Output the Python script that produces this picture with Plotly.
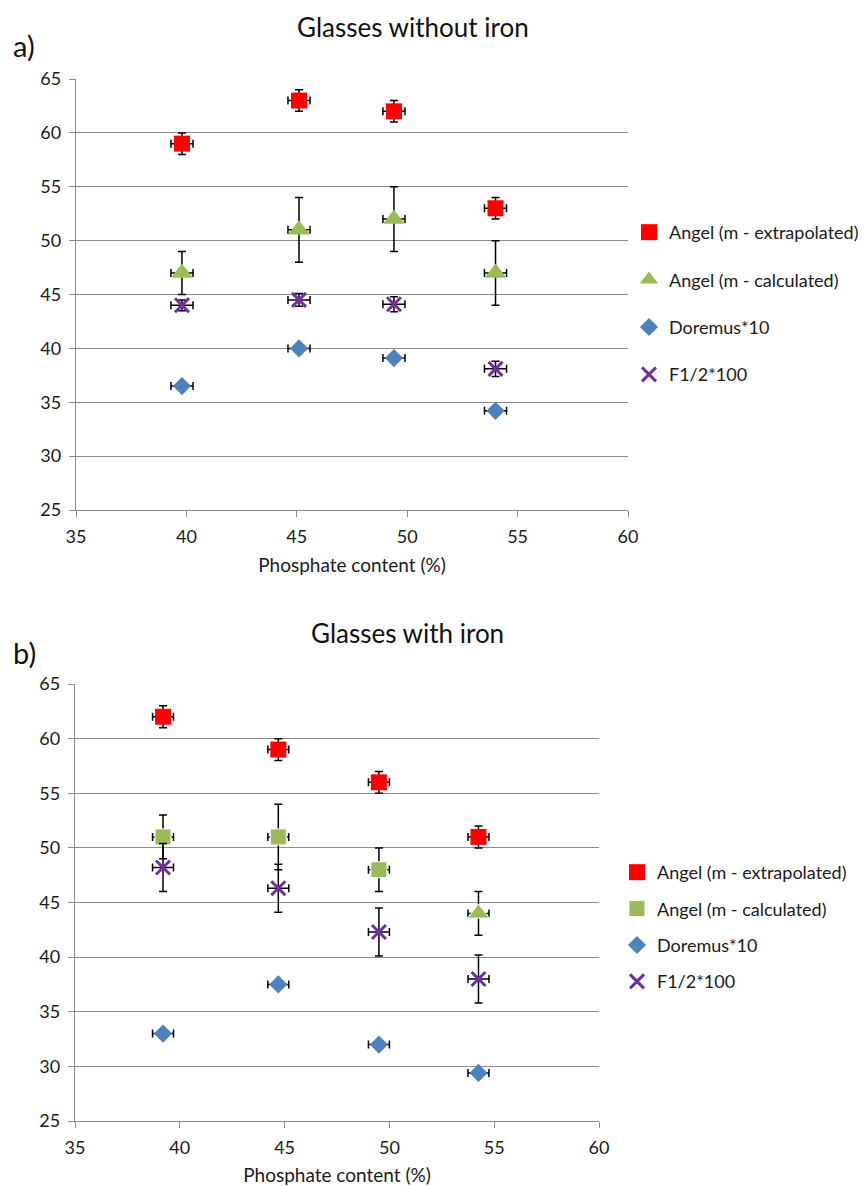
import plotly.graph_objects as go

# ---------------- data ----------------
series_names = ["Angel (m - extrapolated)", "Angel (m - calculated)", "Doremus*10", "F1/2*100"]

# a) Glasses without iron
a_x = [39.8, 45.1, 49.4, 54.0]
a_x_err = [0.5, 0.5, 0.5, 0.5]
a_extrap = [59, 63, 62, 53]
a_extrap_err = [1, 1, 1, 1]
a_calc = [47, 51, 52, 47]
a_calc_err = [2, 3, 3, 3]
a_doremus = [36.5, 40.0, 39.1, 34.2]
a_f12 = [44.0, 44.5, 44.1, 38.1]
a_f12_err = [0.5, 0.6, 0.7, 0.7]

# b) Glasses with iron
b_x = [39.2, 44.7, 49.5, 54.25]
b_x_err = [0.5, 0.5, 0.5, 0.5]
b_extrap = [62, 59, 56, 51]
b_extrap_err = [1, 1, 1, 1]
b_calc = [51, 51, 48, 44]
b_calc_err = [2, 3, 2, 2]
b_calc_symbols = ["square", "square", "square", "triangle-up"]
b_doremus = [33.0, 37.5, 32.0, 29.4]
b_f12 = [48.2, 46.3, 42.3, 38.0]
b_f12_err = [2.2, 2.2, 2.2, 2.2]

x_ticks = [35, 40, 45, 50, 55, 60]
y_ticks = [25, 30, 35, 40, 45, 50, 55, 60, 65]

# ---------------- styles ----------------
RED = "#FF0000"
GREEN = "#9BBB59"
BLUE = "#4F81BD"
PURPLE = "#7030A0"
FONT = "Lato"
OFF = 8                 # page body margin
W, H = 866 - OFF, 1186 - OFF

def px(x):   # picture x -> paper fraction
    return (x - OFF) / W

def py(y):   # picture y -> paper fraction
    return 1 - (y - OFF) / H

def ex(err):
    return dict(type="data", array=err, color="black", thickness=1.5, width=4)

fig = go.Figure()

def add_panel(xv, xerr, ext, ext_err, calc, calc_err, calc_sym, calc_size, dor, f12, f12_err, xa, ya, leg):
    fig.add_trace(go.Scatter(x=xv, y=ext, mode="markers", name=series_names[0],
                             error_x=ex(xerr), error_y=ex(ext_err),
                             marker=dict(symbol="square", size=16, color=RED, opacity=1),
                             xaxis=xa, yaxis=ya, legend=leg, legendgroup=leg + "1"))
    fig.add_trace(go.Scatter(x=xv, y=calc, mode="markers", name=series_names[1],
                             error_x=ex(xerr), error_y=ex(calc_err),
                             marker=dict(symbol=calc_sym, size=calc_size, color=GREEN, opacity=1),
                             xaxis=xa, yaxis=ya, legend=leg, legendgroup=leg + "2"))
    fig.add_trace(go.Scatter(x=xv, y=dor, mode="markers", name=series_names[2],
                             error_x=ex(xerr),
                             marker=dict(symbol="diamond", size=14, color=BLUE, opacity=1),
                             xaxis=xa, yaxis=ya, legend=leg, legendgroup=leg + "3"))
    fig.add_trace(go.Scatter(x=xv, y=f12, mode="markers", name=series_names[3],
                             error_x=ex(xerr), error_y=ex(f12_err),
                             marker=dict(symbol="x-thin", size=14, color=PURPLE, opacity=1,
                                         line=dict(width=3, color=PURPLE)),
                             xaxis=xa, yaxis=ya, legend=leg, legendgroup=leg + "4"))

add_panel(a_x, a_x_err, a_extrap, a_extrap_err, a_calc, a_calc_err, "triangle-up", 19,
          a_doremus, a_f12, a_f12_err, "x", "y", "legend")
add_panel(b_x, b_x_err, b_extrap, b_extrap_err, b_calc, b_calc_err, b_calc_symbols,
          [16, 16, 16, 19], b_doremus, b_f12, b_f12_err, "x2", "y2", "legend2")

axis_common = dict(showline=True, linecolor="#8c8c8c", linewidth=1.3,
                   ticks="outside", ticklen=6, tickcolor="#8c8c8c",
                   tickfont=dict(family=FONT, size=18, color="#1a1a1a"),
                   zeroline=False, automargin=False)

def xaxis(domain, anchor):
    return dict(domain=domain, anchor=anchor, range=[35, 60], tickvals=x_ticks,
                showgrid=False, ticklabelstandoff=4,
                title=dict(text="Phosphate content (%)", standoff=12,
                           font=dict(family=FONT, size=19, color="#1a1a1a")),
                **axis_common)

def yaxis(domain, anchor):
    return dict(domain=domain, anchor=anchor, range=[25, 65], tickvals=y_ticks,
                showgrid=True, gridcolor="#8c8c8c", gridwidth=1.3,
                ticklabelstandoff=4, **axis_common)

fig.update_layout(
    width=W, height=H, autosize=False,
    margin=dict(l=0, r=0, t=0, b=0),
    paper_bgcolor="white", plot_bgcolor="white",
    font=dict(family=FONT, color="#1a1a1a"),
    xaxis=xaxis([px(76), px(628)], "y"),
    yaxis=yaxis([py(510), py(79)], "x"),
    xaxis2=xaxis([px(75), px(599)], "y2"),
    yaxis2=yaxis([py(1121), py(684)], "x2"),
    legend=dict(x=px(629), y=py(214), xanchor="left", yanchor="top",
                traceorder="grouped", tracegroupgap=21,
                font=dict(family=FONT, size=18, color="#1a1a1a"),
                bgcolor="rgba(0,0,0,0)"),
    legend2=dict(x=px(617), y=py(854), xanchor="left", yanchor="top",
                 traceorder="grouped", tracegroupgap=10,
                 font=dict(family=FONT, size=18, color="#1a1a1a"),
                 bgcolor="rgba(0,0,0,0)"),
    showlegend=True,
)

annotations = [
    dict(text="Glasses without iron", x=413, y=27, size=26),
    dict(text="Glasses with iron", x=407, y=633, size=26),
    dict(text="a)", x=24, y=46, size=29),
    dict(text="b)", x=24, y=652, size=29),
]
for a in annotations:
    fig.add_annotation(text=a["text"], x=px(a["x"]), y=py(a["y"]), xref="paper", yref="paper",
                       xanchor="center", yanchor="middle", showarrow=False,
                       font=dict(family=FONT, size=a["size"], color="#111111"))

fig.write_html("out.html")
